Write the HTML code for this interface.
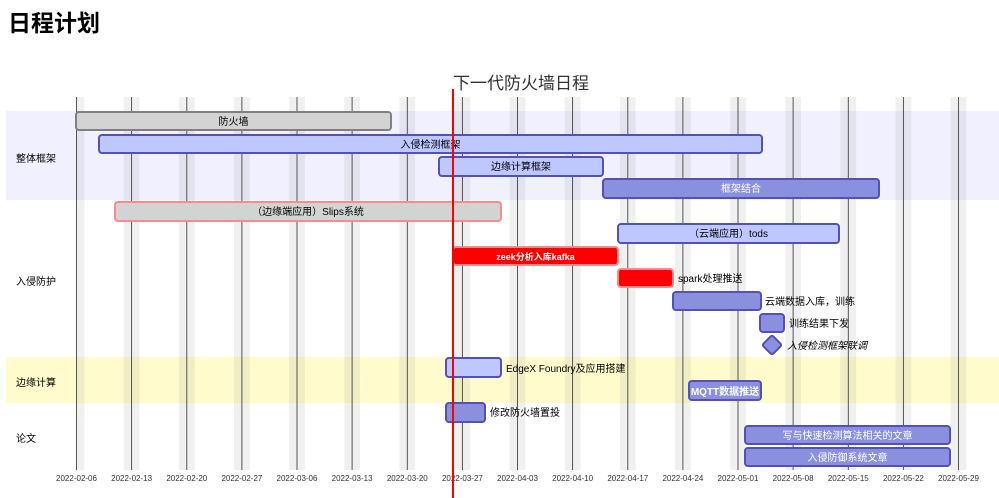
<!DOCTYPE html>
<html><head><meta charset="utf-8"><style>
body{margin:0;width:999px;height:498px;overflow:hidden;background:#fff;font-family:"Liberation Sans","Noto Sans CJK SC",sans-serif;}
h1{position:absolute;left:8px;top:4px;margin:0;font-size:23px;font-weight:bold;color:#000;}
svg{position:absolute;left:0;top:0}
text{font-family:"Liberation Sans","Noto Sans CJK SC",sans-serif;}
</style></head><body>
<h1>日程计划</h1>
<svg width="999" height="498" viewBox="0 0 999 498">
<rect x="6" y="111" width="993" height="89" fill="#f0f0ff"/>
<rect x="6" y="357" width="993" height="46" fill="#fffbcc"/>
<g fill="#888" opacity="0.12">
<rect x="76.5" y="97" width="7.9" height="373"/>
<rect x="123.75" y="97" width="15.75" height="373"/><rect x="178.9" y="97" width="15.75" height="373"/>
<rect x="234" y="97" width="15.75" height="373"/><rect x="289.1" y="97" width="15.75" height="373"/>
<rect x="344.3" y="97" width="15.75" height="373"/><rect x="399.4" y="97" width="15.75" height="373"/>
<rect x="454.5" y="97" width="15.75" height="373"/><rect x="509.6" y="97" width="15.75" height="373"/>
<rect x="564.8" y="97" width="15.75" height="373"/><rect x="619.9" y="97" width="15.75" height="373"/>
<rect x="675" y="97" width="15.75" height="373"/><rect x="730.1" y="97" width="15.75" height="373"/>
<rect x="785.3" y="97" width="15.75" height="373"/><rect x="840.4" y="97" width="15.75" height="373"/>
<rect x="895.5" y="97" width="15.75" height="373"/><rect x="950.6" y="97" width="15.75" height="373"/>
</g>
<g stroke="#444" stroke-width="0.9">
<line x1="76.5" y1="97" x2="76.5" y2="470"/><line x1="131.6" y1="97" x2="131.6" y2="470"/>
<line x1="186.8" y1="97" x2="186.8" y2="470"/><line x1="241.9" y1="97" x2="241.9" y2="470"/>
<line x1="297" y1="97" x2="297" y2="470"/><line x1="352.1" y1="97" x2="352.1" y2="470"/>
<line x1="407.3" y1="97" x2="407.3" y2="470"/><line x1="462.4" y1="97" x2="462.4" y2="470"/>
<line x1="517.5" y1="97" x2="517.5" y2="470"/><line x1="572.6" y1="97" x2="572.6" y2="470"/>
<line x1="627.8" y1="97" x2="627.8" y2="470"/><line x1="682.9" y1="97" x2="682.9" y2="470"/>
<line x1="738" y1="97" x2="738" y2="470"/><line x1="793.1" y1="97" x2="793.1" y2="470"/>
<line x1="848.3" y1="97" x2="848.3" y2="470"/><line x1="903.4" y1="97" x2="903.4" y2="470"/>
<line x1="958.5" y1="97" x2="958.5" y2="470"/>
</g>
<g font-size="8" fill="#333" text-anchor="middle">
<text x="76.5" y="481">2022-02-06</text><text x="131.6" y="481">2022-02-13</text>
<text x="186.8" y="481">2022-02-20</text><text x="241.9" y="481">2022-02-27</text>
<text x="297" y="481">2022-03-06</text><text x="352.1" y="481">2022-03-13</text>
<text x="407.3" y="481">2022-03-20</text><text x="462.4" y="481">2022-03-27</text>
<text x="517.5" y="481">2022-04-03</text><text x="572.6" y="481">2022-04-10</text>
<text x="627.8" y="481">2022-04-17</text><text x="682.9" y="481">2022-04-24</text>
<text x="738" y="481">2022-05-01</text><text x="793.1" y="481">2022-05-08</text>
<text x="848.3" y="481">2022-05-15</text><text x="903.4" y="481">2022-05-22</text>
<text x="958.5" y="481">2022-05-29</text>
</g>
<g font-size="10" fill="#000">
<text x="16" y="162">整体框架</text>
<text x="16" y="285">入侵防护</text>
<text x="16" y="386">边缘计算</text>
<text x="16" y="442">论文</text>
</g>
<g stroke-width="2">
<rect x="76" y="112" width="315" height="18" rx="3" fill="#d3d3d3" stroke="#808080"/>
<rect x="99" y="135" width="663" height="18" rx="3" fill="#bfc7ff" stroke="#534fbc"/>
<rect x="439" y="157" width="164" height="19" rx="3" fill="#bfc7ff" stroke="#534fbc"/>
<rect x="603" y="179" width="276" height="19" rx="3" fill="#8a90dd" stroke="#534fbc"/>
<rect x="115" y="202" width="386" height="19" rx="3" fill="#d3d3d3" stroke="#ff8888"/>
<rect x="618" y="224" width="221" height="19" rx="3" fill="#bfc7ff" stroke="#534fbc"/>
<rect x="453" y="247" width="165" height="18" rx="3" fill="#ff0000" stroke="#ff8888"/>
<rect x="618" y="269" width="55" height="18" rx="3" fill="#ff0000" stroke="#ff8888"/>
<rect x="673" y="292" width="88" height="18" rx="3" fill="#8a90dd" stroke="#534fbc"/>
<rect x="760" y="314" width="24" height="18" rx="3" fill="#8a90dd" stroke="#534fbc"/>
<rect x="765" y="338" width="14" height="14" rx="2" fill="#8a90dd" stroke="#534fbc" transform="rotate(45 772 345)"/>
<rect x="446" y="358" width="55" height="19" rx="3" fill="#bfc7ff" stroke="#534fbc"/>
<rect x="689" y="381" width="72" height="19" rx="3" fill="#8a90dd" stroke="#534fbc"/>
<rect x="446" y="403" width="39" height="19" rx="3" fill="#8a90dd" stroke="#534fbc"/>
<rect x="745" y="426" width="205" height="18" rx="3" fill="#8a90dd" stroke="#534fbc"/>
<rect x="745" y="448" width="205" height="18" rx="3" fill="#8a90dd" stroke="#534fbc"/>
</g>
<g font-size="10" fill="#000" text-anchor="middle">
<text x="233.5" y="125">防火墙</text>
<text x="430.5" y="148">入侵检测框架</text>
<text x="521" y="170">边缘计算框架</text>
<text x="741" y="192" fill="#fff">框架结合</text>
<text x="308" y="215">（边缘端应用）Slips系统</text>
<text x="728.5" y="237">（云端应用）tods</text>
<text x="535.5" y="260" fill="#fff" font-weight="bold" font-size="9">zeek分析入库kafka</text>
<text x="725" y="395" fill="#fff" font-weight="bold">MQTT数据推送</text>
<text x="847.5" y="439" fill="#fff">写与快速检测算法相关的文章</text>
<text x="847.5" y="461" fill="#fff">入侵防御系统文章</text>
</g>
<g font-size="10" fill="#000">
<text x="678" y="282">spark处理推送</text>
<text x="765" y="305">云端数据入库，训练</text>
<text x="789" y="327">训练结果下发</text>
<text x="787" y="349" font-style="italic">入侵检测框架联调</text>
<text x="506" y="372">EdgeX Foundry及应用搭建</text>
<text x="490" y="416">修改防火墙置投</text>
</g>
<line x1="453" y1="89" x2="453" y2="498" stroke="#ff0000" stroke-width="2"/>
<text x="521" y="89" font-size="17" fill="#333" text-anchor="middle">下一代防火墙日程</text>
</svg>
</body></html>
